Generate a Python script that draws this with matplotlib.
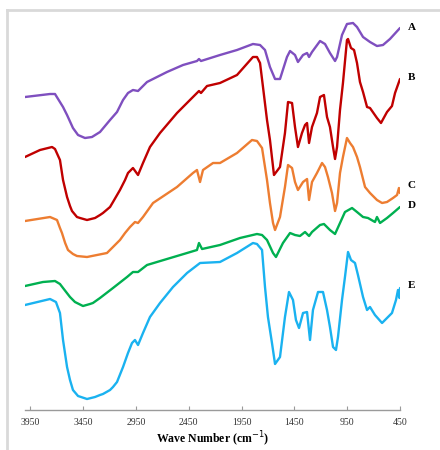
import matplotlib
matplotlib.use("Agg")
import matplotlib.pyplot as plt
from matplotlib.lines import Line2D

# Wavenumber (cm-1) / relative transmittance (offset, a.u.)
wn_A = [4000, 3763, 3716, 3640, 3602, 3546, 3498, 3432, 3366, 3290, 3195, 3129, 3072, 3025, 2978, 2930, 2845,
        2656, 2504, 2372, 2353, 2334,
        2154, 1993, 1842, 1775, 1728, 1681, 1633, 1586, 1520, 1491, 1444, 1416, 1368, 1330, 1311, 1283, 1207,
        1160, 1113, 1065, 1046, 999, 952, 895, 857, 800, 734, 668, 611, 545, 450]
t_A = [313, 316, 316, 303, 295, 282, 275, 272, 273, 278, 290, 298, 310, 317, 320, 319, 328,
       338, 345, 349, 351, 349,
       355, 360, 366, 365, 360, 343, 331, 331, 353, 359, 355, 348, 355, 357, 353, 358, 369,
       366, 357, 349, 353, 375, 386, 387, 383, 373, 368, 364, 365, 371, 382]

wn_B = [4000, 3858, 3744, 3716, 3669, 3640, 3602, 3574, 3555, 3508, 3479, 3413, 3337, 3290, 3262, 3195, 3167,
        3101, 3053, 3025, 2978, 2930, 2883, 2817,
        2722, 2561, 2410, 2353, 2334, 2277, 2154, 1993, 1842, 1804, 1775, 1747, 1709, 1681, 1643, 1586, 1539,
        1510, 1472, 1444, 1416, 1378, 1349, 1330, 1311, 1283, 1236, 1207, 1170, 1141, 1113, 1084, 1065, 1046,
        1018, 990, 952, 942, 914, 885, 857, 829, 800, 762, 734, 668, 630, 573, 526, 497, 450]
t_B = [253, 260, 263, 261, 250, 230, 213, 204, 199, 193, 192, 190, 192, 195, 197, 203, 208,
       220, 230, 237, 242, 235, 247, 263,
       277, 297, 313, 319, 317, 324, 327, 335, 353, 353, 347, 323, 290, 270, 235, 243, 277,
       308, 307, 283, 263, 277, 285, 287, 267, 283, 297, 313, 315, 293, 283, 263, 251, 263,
       300, 327, 370, 371, 362, 360, 347, 328, 318, 303, 302, 292, 287, 298, 304, 317, 331]

wn_C = [4000, 3763, 3697, 3669, 3650, 3620, 3593, 3546, 3508, 3413, 3224, 3167, 3101, 3053, 3006, 2959, 2930,
        2883, 2788, 2561, 2410, 2372,
        2343, 2315, 2220, 2154, 1993, 1851, 1804, 1756, 1709, 1681, 1652, 1633, 1586, 1539, 1510, 1472, 1444,
        1416, 1368, 1330, 1311, 1283, 1236, 1188, 1160, 1132, 1094, 1065, 1046, 1018, 990, 952, 923, 895,
        857, 829, 781, 734, 668, 620, 573, 516, 478, 460, 450]
t_C = [189, 193, 190, 182, 177, 167, 160, 156, 154, 153, 157, 163, 170, 177, 183, 188, 187,
       193, 207, 223, 237, 240,
       228, 240, 247, 247, 257, 270, 269, 262, 230, 207, 187, 180, 193, 223, 245, 242, 228,
       220, 228, 231, 210, 228, 237, 247, 243, 233, 217, 199, 207, 237, 253, 272, 267, 263,
       253, 243, 223, 217, 210, 207, 208, 212, 215, 222, 217]

wn_D = [4000, 3830, 3716, 3669, 3640, 3574, 3527, 3451, 3385, 3357, 3290, 3167, 3034, 2978, 2930, 2845, 2656,
        2466, 2372, 2353,
        2324, 2154, 1965, 1804, 1756, 1709, 1652, 1624, 1558, 1491, 1444, 1397, 1349, 1311, 1283, 1207, 1170,
        1113, 1065, 1018, 971, 904, 857, 800, 753, 687, 668, 639, 573, 516, 450]
t_D = [124, 128, 129, 126, 122, 113, 108, 104, 106, 107, 112, 122, 133, 138, 138, 145, 151,
       157, 160, 167,
       161, 165, 172, 176, 175, 170, 157, 153, 167, 177, 175, 174, 178, 174, 178, 185, 186,
       180, 176, 187, 198, 202, 198, 193, 192, 188, 193, 187, 192, 197, 203]

wn_E = [4000, 3763, 3707, 3669, 3640, 3602, 3574, 3546, 3498, 3413, 3337, 3290, 3262, 3195, 3167, 3129, 3072,
        3025, 2987, 2959, 2930, 2883, 2817, 2722,
        2599, 2466, 2343, 2154, 1993, 1842, 1804, 1756, 1728, 1700, 1662, 1633, 1586, 1539, 1501, 1463, 1435,
        1406, 1368, 1330, 1302, 1274, 1226, 1179, 1141, 1113, 1084, 1056, 1037, 999, 971, 942, 914, 876,
        848, 800, 762, 734, 687, 620, 573, 526, 488, 469, 455, 450]
t_E = [105, 111, 108, 97, 70, 43, 30, 20, 14, 11, 13, 15, 16, 20, 23, 28, 43,
       57, 67, 70, 65, 77, 93, 107,
       123, 137, 147, 148, 157, 167, 166, 160, 123, 93, 67, 46, 53, 93, 118, 110, 90,
       82, 97, 98, 70, 100, 118, 118, 100, 83, 63, 60, 73, 110, 133, 158, 150, 147,
       135, 113, 100, 103, 95, 87, 92, 97, 110, 120, 112, 122]

series = [
    ("A", wn_A, t_A, "#7F4FBF"),
    ("B", wn_B, t_B, "#C00000"),
    ("C", wn_C, t_C, "#ED7D31"),
    ("D", wn_D, t_D, "#00B050"),
    ("E", wn_E, t_E, "#1AB2F0"),
]
label_pos = {"A": 383, "B": 332, "C": 224, "D": 205, "E": 125}

xticks = [3950, 3450, 2950, 2450, 1950, 1450, 950, 450]

fig = plt.figure(figsize=(4.4, 4.5), dpi=100)
ax = fig.add_axes([25 / 440, 40 / 450, 375 / 440, 400 / 450])

for name, x, y, c in series:
    ax.plot(x, y, color=c, lw=1.7, solid_joinstyle="round", solid_capstyle="round")
    ax.text(1.02, label_pos[name], name, transform=ax.get_yaxis_transform(),
            fontsize=8, fontweight="bold", family="Liberation Serif", va="center", ha="left")

ax.set_xlim(4000, 450)
ax.set_ylim(0, 400)
for s in ["top", "right", "left"]:
    ax.spines[s].set_visible(False)
ax.spines["bottom"].set_color("#9a9a9a")
ax.spines["bottom"].set_linewidth(1.0)
ax.set_yticks([])
ax.set_xticks(xticks)
ax.set_xticklabels([str(t) for t in xticks], family="Liberation Serif", fontsize=7, color="#333333")
ax.tick_params(axis="x", direction="in", length=3, color="#9a9a9a", pad=6)
ax.set_xlabel("Wave Number (cm$^{-1}$)", family="Liberation Serif", fontsize=8.5,
              fontweight="bold", labelpad=2)

# light gray outer frame (left and top)
fig.add_artist(Line2D([7 / 440, 7 / 440], [0, 440 / 450], color="#d9d9d9", lw=2, transform=fig.transFigure))
fig.add_artist(Line2D([7 / 440, 1], [440 / 450, 440 / 450], color="#d9d9d9", lw=2, transform=fig.transFigure))

fig.savefig("out.png", dpi=100)
